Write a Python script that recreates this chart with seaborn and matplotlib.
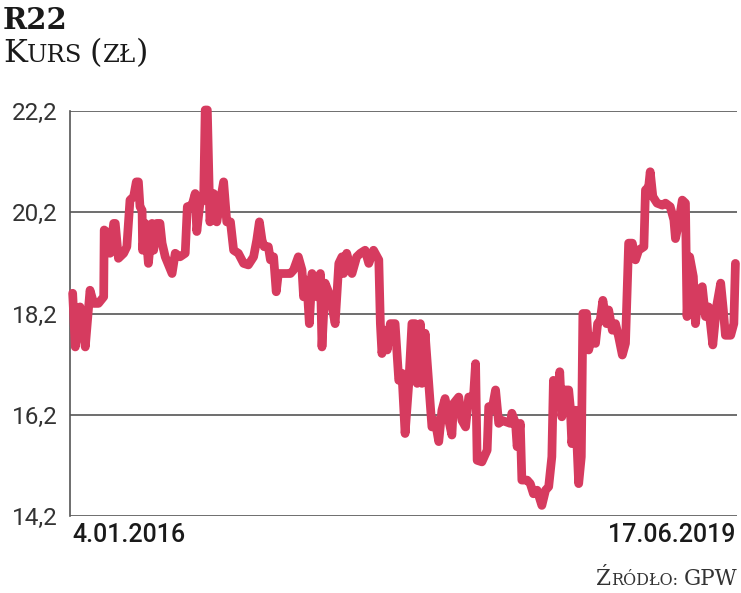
import numpy as np
import pandas as pd
import matplotlib
matplotlib.use("Agg")
import matplotlib.pyplot as plt
import seaborn as sns

# days since 4.01.2016
days = [1, 6, 15, 25, 34, 41, 50, 60, 61, 69, 72, 79, 82, 88, 98, 104, 110, 117, 122, 126,
        129, 133, 134, 139, 145, 152, 155, 161, 167, 171, 177, 190, 196, 205, 215, 219, 228,
        234, 237, 243, 250, 253, 257, 262, 269, 275, 282, 288, 294, 301, 307, 316, 326, 335,
        345, 351, 356, 361, 365, 373, 377, 383, 388, 392, 415,
        421, 430, 437, 440, 446, 451, 456, 462, 465, 472, 475, 481, 491, 500, 507, 513, 516,
        522, 532, 541, 548, 557, 564, 573, 583, 586, 589, 595, 599, 605, 614, 621, 627, 633,
        640, 646, 652, 656, 662, 665, 671, 678, 684, 690, 697, 703, 709, 716, 722, 725, 735,
        741, 748, 754, 763, 767, 770, 779, 789, 792, 798, 805, 811, 817, 833,
        836, 843, 846, 852, 855, 865, 871, 877, 884, 893, 900, 906, 912, 915, 922, 927, 931,
        938, 944, 947, 950, 957, 963, 968, 971, 978, 982, 988, 995, 999, 1004, 1009, 1016,
        1020, 1027, 1033, 1039, 1046, 1052, 1058, 1065, 1071, 1077, 1087, 1090, 1096, 1099,
        1104, 1112, 1122, 1128, 1137, 1144, 1147, 1153, 1160, 1166, 1169, 1174, 1181, 1185,
        1191, 1198, 1204, 1210, 1218, 1225, 1233, 1238, 1242, 1252, 1258, 1261]
kurs = [18.60, 17.54, 18.33, 17.54, 18.66, 18.40, 18.40, 18.53, 19.85, 19.78, 19.39, 19.98,
        19.98, 19.29, 19.39, 19.52, 20.44, 20.51, 20.80, 20.80, 20.31, 20.24, 19.45, 19.98,
        19.19, 19.98, 19.45, 19.98, 19.98, 19.59, 19.32, 18.99, 19.39, 19.32, 19.39, 20.31,
        20.34, 20.57, 19.82, 20.38, 20.44, 22.22, 22.22, 20.01, 20.57, 20.01, 20.44, 20.80,
        20.01, 20.01, 19.45, 19.39, 19.19, 19.16, 19.32, 19.65, 20.01, 19.65, 19.52, 19.52,
        19.26, 19.32, 18.63, 18.99, 18.99,
        19.06, 19.32, 19.06, 18.53, 18.86, 18.00, 18.99, 18.73, 18.53, 18.99, 17.54, 18.80,
        18.53, 18.00, 19.19, 19.32, 18.99, 19.39, 18.99, 19.32, 19.39, 19.45, 19.19, 19.45,
        19.26, 18.00, 17.41, 17.87, 17.48, 18.00, 18.00, 16.88, 17.02, 15.83, 16.82, 18.00,
        18.00, 16.82, 18.00, 16.82, 17.81, 16.82, 15.96, 16.09, 15.67, 16.29, 16.52, 16.09,
        15.80, 16.42, 16.55, 16.09, 15.96, 16.55, 16.55, 17.21, 15.30, 15.27, 15.50, 16.36,
        16.29, 16.69, 16.03, 16.09, 16.03,
        16.23, 16.03, 15.57, 16.03, 14.91, 14.91, 14.84, 14.64, 14.71, 14.41, 14.71, 14.78,
        15.37, 16.88, 16.36, 17.05, 16.16, 16.69, 16.69, 16.36, 15.63, 16.29, 14.84, 15.37,
        18.20, 18.20, 17.48, 17.74, 17.61, 18.00, 18.07, 18.46, 18.00, 18.27, 17.87, 18.00,
        17.74, 17.38, 17.61, 19.59, 19.59, 19.26, 19.45, 19.52, 20.64, 20.70, 21.00, 20.51,
        20.38, 20.34, 20.38, 20.31, 20.05, 19.68, 19.98, 20.44, 20.38, 18.14, 19.32, 18.93,
        18.00, 18.66, 18.73, 18.14, 18.33, 17.58, 18.33, 18.80, 18.27, 17.77, 17.77, 18.00,
        19.19]

yticks = [14.2, 16.2, 18.2, 20.2, 22.2]
ylabels = ["14,2", "16,2", "18,2", "20,2", "22,2"]
start = pd.Timestamp("2016-01-04")
end = pd.Timestamp("2019-06-17")
xlabels = ["4.01.2016", "17.06.2019"]

df = pd.DataFrame({"data": start + pd.to_timedelta(days, unit="D"), "kurs": kurs})

sns.set_style("white")
fig = plt.figure(figsize=(7.41, 5.93), dpi=100)
ax = fig.add_axes([0.0945, 0.1298, 0.9001, 0.683])

sns.lineplot(data=df, x="data", y="kurs", ax=ax, color="#d63b5f", linewidth=6.3,
             estimator=None, sort=False, solid_joinstyle="round", solid_capstyle="round",
             clip_on=False, zorder=3)

ax.set_ylim(14.2, 22.2)
ax.set_xlim(start - pd.Timedelta(days=4), end + pd.Timedelta(days=4))
ax.set_yticks(yticks)
ax.set_yticklabels(ylabels, fontsize=17.5, color="#333333", family="Roboto")
ax.set_xticks([start, end])
ax.set_xticklabels(xlabels, fontsize=18, color="#1a1a1a", family="Roboto", fontweight="medium")
xt = ax.get_xticklabels()
xt[0].set_ha("left")
xt[1].set_ha("right")
ax.tick_params(axis="both", length=0)
ax.tick_params(axis="y", pad=9)
ax.tick_params(axis="x", pad=5)
ax.set_xlabel("")
ax.set_ylabel("")
for y in yticks:
    ax.axhline(y, color="#555555", linewidth=1.2, zorder=1)
for s in ["top", "right", "bottom"]:
    ax.spines[s].set_visible(False)
ax.spines["left"].set_color("#555555")
ax.spines["left"].set_linewidth(1.2)

# title and small-caps subtitle
fig.text(0.004, 0.951, "R22", fontsize=21, fontweight="bold", family="DejaVu Serif",
         color="#1a1a1a", va="baseline")

renderer = fig.canvas.get_renderer()


def smallcaps(x, y, parts, big, small, color="#1a1a1a"):
    texts = []
    for txt, is_big in parts:
        t = fig.text(x, y, txt, fontsize=big if is_big else small, family="DejaVu Serif",
                     color=color, va="baseline")
        bb = t.get_window_extent(renderer)
        x += bb.width / fig.bbox.width
        texts.append(t)
    return x, texts


smallcaps(0.004, 0.895, [("K", True), ("URS", False), (" ", False), ("(", True),
                         ("ZŁ", False), (")", True)], 23, 17.5)

# source, right aligned
parts = [("Ź", True), ("RÓDŁO:", False), (" ", False), ("GPW", True)]
width, tmp = smallcaps(0, 0.5, parts, 15.5, 11.5, color="#333333")
for t in tmp:
    t.remove()
smallcaps(0.995 - width, 0.013, parts, 15.5, 11.5, color="#333333")

fig.savefig("out.png", dpi=100)
